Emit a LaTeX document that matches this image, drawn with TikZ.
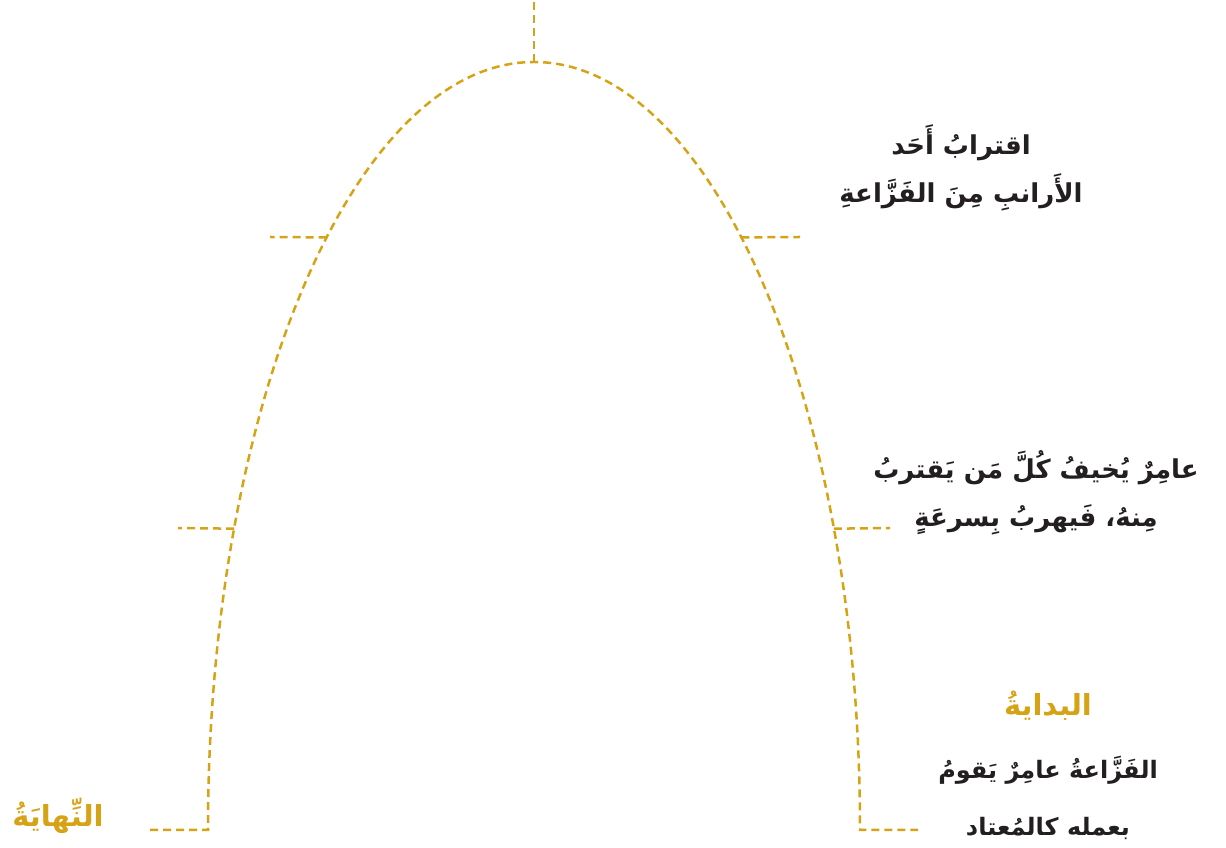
\documentclass[tikz,border=0pt]{standalone}
\usepackage{fontspec}
\usetikzlibrary{calc}
\TeXXeTstate=1
\newfontfamily\arabicfont[Script=Arabic]{DejaVu Sans Bold}
\definecolor{gold}{RGB}{214,163,22}
\definecolor{ink}{RGB}{35,31,32}
\begin{document}
\begin{tikzpicture}[x=1pt, y=1pt,
    dashline/.style={draw=gold, line width=2.5pt, dash pattern=on 8pt off 5pt},
    story/.style={text=ink, align=center, font=\arabicfont\fontsize{26}{48}\selectfont},
    stage/.style={text=gold, font=\arabicfont\fontsize{29}{34}\selectfont}]
    \useasboundingbox (0,0) rectangle (1226,848);

    % Arch
    \coordinate (c) at (534,18);
    \coordinate (lfoot) at (208,18);
    \coordinate (lend) at (150,18);
    \coordinate (rend) at (918,18);
    \draw[dashline] (lend) -- (lfoot) arc (180:0:326 and 768) -- (rend);

    % Ticks
    \coordinate (top) at ($(c)+(90:326 and 768)$);
    \coordinate (topend) at (534,848);
    \coordinate (hl) at ($(c)+(129.5:326 and 768)$);
    \coordinate (hr) at ($(c)+(50.5:326 and 768)$);
    \coordinate (ml) at ($(c)+(156.9:326 and 768)$);
    \coordinate (mr) at ($(c)+(23.1:326 and 768)$);
    \coordinate (hlend) at (270,611);
    \coordinate (hrend) at (800,611);
    \coordinate (mlend) at (178,320);
    \coordinate (mrend) at (890,320);
    \draw[dashline] (top) -- (topend);
    \draw[dashline] (hl) -- (hlend);
    \draw[dashline] (hr) -- (hrend);
    \draw[dashline] (ml) -- (mlend);
    \draw[dashline] (mr) -- (mrend);

    % Labels
    \node[story] (climax) at (961,680)
        {\beginR اقترابُ أَحَد\endR\\ \beginR الأَرانبِ مِنَ الفَزَّاعةِ\endR};
    \node[story] (rising) at (1036,355)
        {\beginR عامِرٌ يُخيفُ كُلَّ مَن يَقتربُ\endR\\ \beginR مِنهُ، فَيهربُ بِسرعَةٍ\endR};
    \node[stage] (start) at (1048,142) {\beginR البدايةُ\endR};
    \node[story, font=\arabicfont\fontsize{24}{57}\selectfont] (startText) at (1048,50)
        {\beginR الفَزَّاعةُ عامِرٌ يَقومُ\endR\\ \beginR بعمله كالمُعتاد\endR};
    \node[stage] (finish) at (58,32) {\beginR النِّهايَةُ\endR};
\end{tikzpicture}
\end{document}
